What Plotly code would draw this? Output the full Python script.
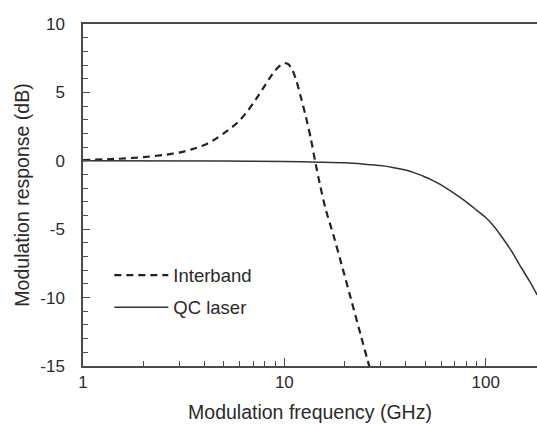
import plotly.graph_objects as go

# Interband laser modulation response
interband_f = [1, 1.5, 2, 2.5, 3, 3.5, 4, 4.5, 5, 5.5, 6, 6.5, 7, 7.5, 8, 8.5, 9, 9.5,
               10, 10.5, 11, 11.5, 12, 12.7, 13.5, 14.2, 15.1, 16, 17.5, 19.5, 21.6, 24, 26.6]
interband_db = [0.05, 0.15, 0.27, 0.42, 0.6, 0.85, 1.15, 1.55, 2.0, 2.45, 2.95, 3.55, 4.2,
                4.85, 5.5, 6.1, 6.6, 6.95, 7.15, 7.05, 6.6, 5.8, 4.8, 3.4, 1.7, 0.0,
                -1.9, -3.5, -5.4, -7.9, -10.3, -12.8, -15.2]

# QC laser modulation response
qc_f = [1, 5, 10, 15, 20, 25, 30, 35, 40, 45, 50, 55, 60, 70, 80, 90, 100,
        110, 120, 135, 150, 165, 180]
qc_db = [0.0, -0.02, -0.05, -0.1, -0.15, -0.25, -0.35, -0.5, -0.68, -0.92, -1.18,
         -1.47, -1.76, -2.4, -3.0, -3.6, -4.15, -4.8, -5.55, -6.65, -7.8, -8.8, -9.8]

x_major = [1, 10, 100]
x_major_text = ["1", "10", "100"]
x_minor = [2, 3, 4, 5, 6, 7, 8, 9, 20, 30, 40, 50, 60, 70, 80, 90, 200]
y_major = [-15, -10, -5, 0, 5, 10]
y_major_text = ["-15", "-10", "-5", "0", "5", "10"]

FONT = "Liberation Sans, Arial, sans-serif"
AX = "#4a4a4a"
TXT = "#2a2a2a"

fig = go.Figure()
fig.add_trace(go.Scatter(
    x=interband_f, y=interband_db, name="Interband", mode="lines",
    line=dict(color="#222222", width=2.2, dash="7px,5px", shape="spline", smoothing=0.6),
    legendgroup="a"))
fig.add_trace(go.Scatter(
    x=qc_f, y=qc_db, name="QC laser", mode="lines",
    line=dict(color="#333333", width=1.5, shape="spline", smoothing=0.6),
    legendgroup="b"))

fig.update_layout(
    width=537, height=424,
    margin=dict(l=83, r=0, t=24, b=58),
    paper_bgcolor="white", plot_bgcolor="white",
    font=dict(family=FONT, size=17, color=TXT),
    showlegend=True,
    legend=dict(x=0.058, y=0.32, xanchor="left", yanchor="top",
                bgcolor="rgba(0,0,0,0)", font=dict(size=18.5, color=TXT),
                tracegroupgap=5, itemwidth=54),
)

fig.update_xaxes(
    type="log", range=[0, 2.2546], automargin=False,
    showgrid=False, zeroline=False,
    showline=True, linecolor=AX, linewidth=1.5, mirror=True,
    tickmode="array", tickvals=x_major, ticktext=x_major_text,
    ticks="inside", ticklen=8, tickwidth=1.2, tickcolor=AX,
    minor=dict(tickmode="array", tickvals=x_minor, ticks="inside",
               ticklen=5, tickwidth=1, tickcolor=AX),
    tickfont=dict(size=17, color=TXT), ticklabelstandoff=0,
    title=dict(text="Modulation frequency (GHz)", font=dict(size=19.5, color=TXT), standoff=14),
)

fig.update_yaxes(
    range=[-15, 10], automargin=False,
    showgrid=False, zeroline=False,
    showline=True, linecolor=AX, linewidth=1.5,
    tickmode="array", tickvals=y_major, ticktext=y_major_text,
    ticks="inside", ticklen=7, tickwidth=1.2, tickcolor=AX,
    minor=dict(dtick=1, ticks="inside", ticklen=5, tickwidth=1, tickcolor=AX),
    tickfont=dict(size=17, color=TXT), ticklabelstandoff=13,
    title=dict(text="Modulation response (dB)", font=dict(size=19.5, color=TXT), standoff=5),
)

# remove the default page margin so the figure sits at the window's top-left corner
fig.write_html("out.html", config={"displayModeBar": False},
               post_script="document.body.style.margin='0';")
